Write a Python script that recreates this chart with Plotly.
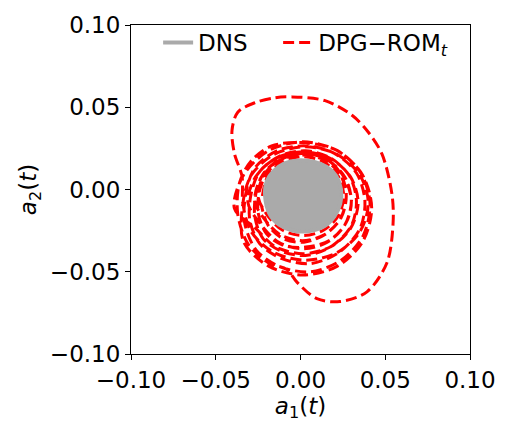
import plotly.graph_objects as go

# DNS limit-cycle envelope in the (a1, a2) plane (boundary of the swept region)
dns_a1 = [-0.0209, -0.0198, -0.0159, -0.0097, -0.0014, 0.0082, 0.0155, 0.0211,
          0.0239, 0.0234, 0.0199, 0.0139, 0.0043, -0.0047, -0.0126, -0.0182]
dns_a2 = [-0.0038, 0.0052, 0.0112, 0.0158, 0.0177, 0.0167, 0.0137, 0.0082,
          0.0002, -0.0088, -0.0164, -0.0224, -0.0254, -0.0249, -0.0214, -0.0149]

# DPG-ROM_t trajectory
rom_a1 = [
    # inner orbits
    -0.0225, -0.0193, -0.0105, 0.0015, 0.0135, 0.0223, 0.0255, 0.0223, 0.0135, 0.0015, -0.0105, -0.0193,
    -0.025, -0.0215, -0.012, 0.001, 0.014, 0.0235, 0.027, 0.0235, 0.014, 0.001, -0.012, -0.0215,
    -0.027, -0.0232, -0.0128, 0.0015, 0.0158, 0.0262, 0.030, 0.0262, 0.0158, 0.0015, -0.0128, -0.0232,
    -0.031, -0.0266, -0.0148, 0.0015, 0.0178, 0.0296, 0.034, 0.0296, 0.0178, 0.0015, -0.0148, -0.0266,
    -0.039, -0.0336, -0.0188, 0.0015, 0.0218, 0.0366, 0.042, 0.0366, 0.0218, 0.0015, -0.0188, -0.0336,
    -0.034, -0.029, -0.0155, 0.003, 0.0215, 0.035, 0.040, 0.035, 0.0215, 0.003, -0.0155, -0.029,
    -0.034,
    # large excursion
    -0.0345, -0.039, -0.0404, -0.037, -0.0268, -0.015, -0.005, 0.0145, 0.0304, 0.0398,
    0.0481, 0.054, 0.0546, 0.051, 0.0392, 0.0233, 0.0097, -0.0021, -0.008,
    # settling back onto the cycle
    -0.019, -0.031, -0.037, -0.036, -0.029, -0.017, 0.002, 0.021, 0.035, 0.041, 0.037, 0.024, 0.006,
    -0.012, -0.026, -0.033, -0.032, -0.027, -0.014, 0.003, 0.020, 0.033, 0.038, 0.035, 0.023, 0.006,
    -0.011, -0.024, -0.030, -0.029, -0.024, -0.012, 0.003, 0.018, 0.029, 0.033, 0.030, 0.019, 0.004,
    -0.010, -0.022, -0.027, -0.026, -0.021, -0.010, 0.003, 0.016, 0.026, 0.030, 0.027, 0.017, 0.003,
    -0.010, -0.020, -0.025, -0.024, -0.019, -0.009, 0.003, 0.015, 0.024, 0.027, 0.024, 0.015, 0.002,
    -0.010, -0.019, -0.023,
]
rom_a2 = [
    -0.004, 0.008, 0.0168, 0.020, 0.0168, 0.008, -0.004, -0.016, -0.0248, -0.028, -0.0248, -0.016,
    -0.0043, 0.0091, 0.018, 0.021, 0.018, 0.0091, -0.0043, -0.0177, -0.0275, -0.0311, -0.0275, -0.0177,
    -0.007, 0.0075, 0.0181, 0.022, 0.0181, 0.0075, -0.007, -0.0215, -0.0321, -0.036, -0.0321, -0.0215,
    -0.008, 0.0075, 0.0188, 0.023, 0.0188, 0.0075, -0.008, -0.0235, -0.0348, -0.039, -0.0348, -0.0235,
    -0.0115, 0.0088, 0.0236, 0.029, 0.0236, 0.0088, -0.0115, -0.0318, -0.0466, -0.052, -0.0466, -0.0318,
    -0.0085, 0.0088, 0.0214, 0.026, 0.0214, 0.0088, -0.0085, -0.0258, -0.0384, -0.043, -0.0384, -0.0258,
    -0.0085,
    0.008, 0.022, 0.036, 0.047, 0.0528, 0.0558, 0.0563, 0.054, 0.0451, 0.0351,
    0.0215, -0.0032, -0.0209, -0.0445, -0.0622, -0.0681, -0.0664, -0.0563, -0.0487,
    -0.0445, -0.033, -0.015, 0.004, 0.0175, 0.0265, 0.0285, 0.024, 0.011, -0.008, -0.028, -0.043, -0.050,
    -0.047, -0.037, -0.020, -0.001, 0.013, 0.0235, 0.0265, 0.022, 0.010, -0.007, -0.024, -0.038, -0.045,
    -0.042, -0.033, -0.018, -0.002, 0.011, 0.0205, 0.0235, 0.019, 0.008, -0.007, -0.022, -0.034, -0.040,
    -0.038, -0.030, -0.016, -0.001, 0.011, 0.019, 0.022, 0.018, 0.007, -0.007, -0.020, -0.031, -0.035,
    -0.034, -0.027, -0.014, 0.000, 0.011, 0.0195, 0.0215, 0.019, 0.009, -0.004, -0.017, -0.027, -0.032,
    -0.030, -0.022, -0.010,
]

tick_vals = [-0.10, -0.05, 0.00, 0.05, 0.10]
tick_text = ["\u22120.10", "\u22120.05", "0.00", "0.05", "0.10"]

FONT = "DejaVu Sans"
FS = 23
GRAY = "#aaaaaa"

fig = go.Figure()

fig.add_trace(go.Scatter(
    x=rom_a1, y=rom_a2, mode="lines",
    line=dict(color="red", width=3, dash="11px,5px", shape="spline", smoothing=0.9),
    name="DPG\u2212ROM<sub><i>t</i></sub>", legend="legend2",
))

fig.add_trace(go.Scatter(
    x=dns_a1 + dns_a1[:1], y=dns_a2 + dns_a2[:1], mode="lines",
    line=dict(color=GRAY, width=4, shape="spline", smoothing=1.0),
    fill="toself", fillcolor=GRAY, showlegend=False, hoverinfo="skip",
))

# legend entry for the DNS curve
fig.add_trace(go.Scatter(
    x=[None], y=[None], mode="lines",
    line=dict(color=GRAY, width=4), name="DNS", legend="legend",
))

axis_common = dict(
    range=[-0.1, 0.1], tickvals=tick_vals, ticktext=tick_text,
    showgrid=False, zeroline=False, showline=True, mirror=True,
    linecolor="black", linewidth=1.1, ticks="outside", ticklen=5,
    tickwidth=1.1, tickcolor="black",
    tickfont=dict(family=FONT, size=FS, color="black"),
)

legend_common = dict(orientation="h", yanchor="top", y=1.012,
                     bgcolor="rgba(0,0,0,0)",
                     font=dict(family=FONT, size=FS, color="black"))

fig.update_layout(
    width=510, height=423,
    margin=dict(l=131, r=40, t=15, b=69),
    paper_bgcolor="white", plot_bgcolor="white",
    font=dict(family=FONT, size=FS, color="black"),
    xaxis=dict(axis_common, title=dict(text="<i>a</i><sub>1</sub>(<i>t</i>)",
                                       font=dict(family=FONT, size=FS), standoff=2)),
    yaxis=dict(axis_common, title=dict(text="<i>a</i><sub>2</sub>(<i>t</i>)",
                                       font=dict(family=FONT, size=FS), standoff=6)),
    legend=dict(legend_common, x=0.08, xanchor="left"),
    legend2=dict(legend_common, x=0.434, xanchor="left"),
    showlegend=True,
)

fig.write_html("out.html")
